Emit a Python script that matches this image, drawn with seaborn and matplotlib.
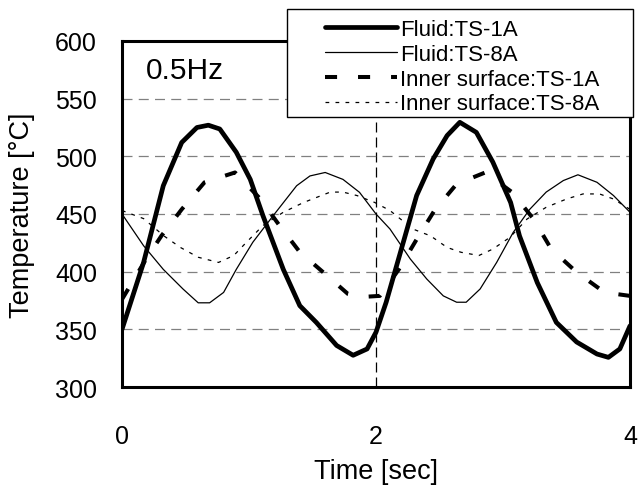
import matplotlib
matplotlib.use("Agg")
import matplotlib.pyplot as plt
import seaborn as sns
import pandas as pd
from matplotlib.patches import Rectangle

# ---- data ----
t_fluid1 = [0.0, 0.17, 0.325, 0.47, 0.59, 0.68, 0.77, 0.90, 1.01, 1.11, 1.27, 1.40, 1.53, 1.69, 1.82, 1.93, 2.0,
            2.08, 2.215, 2.32, 2.45, 2.56, 2.66, 2.79, 2.92, 3.06, 3.13, 3.27, 3.42, 3.58, 3.74, 3.83, 3.92, 4.0]
T_fluid1 = [350, 408, 474.5, 512, 525, 527, 523.7, 503.5, 480, 448.5, 402, 370.5, 356, 336, 327.5, 333, 347.5,
            373.5, 425.5, 466, 497.7, 518, 529.5, 520.8, 495, 460, 431, 390.5, 356, 339, 328.6, 325.7, 333, 353]

t_fluid8 = [0.0, 0.17, 0.325, 0.48, 0.60, 0.69, 0.80, 0.90, 1.03, 1.19, 1.375, 1.48, 1.60, 1.74, 1.87, 2.0, 2.11,
            2.27, 2.40, 2.53, 2.635, 2.71, 2.82, 2.95, 3.08, 3.21, 3.34, 3.475, 3.59, 3.74, 3.87, 4.0]
T_fluid8 = [450, 422.5, 402, 385, 373, 373, 382, 402, 425.5, 448.5, 474.5, 483, 486, 480, 468.8, 450, 437,
            411, 393.6, 379, 373.5, 373.5, 385, 408, 434, 454, 469, 479, 484, 477.5, 466, 451.5]

t_inner1 = [0.0, 0.19, 0.31, 0.47, 0.65, 0.89, 1.09, 1.24, 1.40, 1.60, 1.78, 1.88, 2.03,
            2.18, 2.32, 2.46, 2.635, 2.86, 3.07, 3.24, 3.38, 3.58, 3.80, 4.0]
T_inner1 = [376, 411, 431, 454, 477.5, 486, 463, 440, 417, 398, 380.6, 378, 379,
            402, 428, 453, 476, 486, 469, 445.7, 419.6, 399.5, 382, 379]

t_inner8 = [0.0, 0.17, 0.33, 0.46, 0.60, 0.76, 0.88, 0.98, 1.11, 1.27, 1.43, 1.64, 1.74, 1.85, 1.99, 2.11,
            2.29, 2.43, 2.56, 2.67, 2.81, 2.92, 3.055, 3.19, 3.34, 3.50, 3.63, 3.76, 3.87, 4.0]
T_inner8 = [453, 446, 431, 421, 412.5, 408, 414, 425.5, 440, 451.5, 460, 469, 469, 466, 460, 453,
            437, 431, 421, 416.8, 414, 419.6, 429.8, 445.7, 455.8, 463, 467.4, 467.4, 463, 454]

labels = ["Fluid:TS-1A", "Fluid:TS-8A", "Inner surface:TS-1A", "Inner surface:TS-8A"]
y_ticks = [300, 350, 400, 450, 500, 550, 600]
x_ticks = [0, 2, 4]

# ---- styling ----
sns.set_theme(style="white")
plt.rcParams["font.family"] = ["Liberation Sans", "DejaVu Sans"]

fig = plt.figure(figsize=(6.4, 4.89), dpi=100)
ax = fig.add_axes([122 / 640, 1 - 388 / 489, (630 - 122) / 640, (388 - 42) / 489])

series = [
    (t_fluid1, T_fluid1, dict(lw=3.4, ls="-")),
    (t_fluid8, T_fluid8, dict(lw=0.9, ls="-")),
    (t_inner1, T_inner1, dict(lw=2.9, ls=(0, (3, 5.2)))),
    (t_inner8, T_inner8, dict(lw=0.9, ls=(0, (3, 5)))),
]
for (t, T, st), lab in zip(series, labels):
    df = pd.DataFrame({"t": t, "T": T})
    sns.lineplot(data=df, x="t", y="T", ax=ax, color="black", linewidth=st["lw"],
                 linestyle=st["ls"], label=lab, sort=False, legend=False)

ax.set_xlim(0, 4)
ax.set_ylim(300, 600)
ax.set_xticks(x_ticks)
ax.set_yticks(y_ticks)
ax.set_xticklabels([str(v) for v in x_ticks])
ax.set_yticklabels([str(v) for v in y_ticks])

ax.yaxis.grid(True, color="#808080", linestyle=(0, (8, 5)), linewidth=0.9)
ax.xaxis.grid(True, color="black", linestyle=(0, (8, 4)), linewidth=0.9)
ax.set_axisbelow(True)

for sp in ax.spines.values():
    sp.set_visible(True)
    sp.set_color("black")
    sp.set_linewidth(2.2)

ax.tick_params(axis="both", direction="in", length=7, width=1.5, colors="black",
               labelsize=18, labelcolor="black")
ax.tick_params(axis="x", pad=27)
ax.tick_params(axis="y", pad=18)

ax.set_xlabel("Time [sec]", fontsize=19.5, color="black")
ax.set_ylabel("Temperature [°C]", fontsize=19.5, color="black")
ax.xaxis.label.set_va("center")
ax.yaxis.label.set_va("center")
ax.xaxis.set_label_coords(0.5, -(472 - 388) / 346)
ax.yaxis.set_label_coords(-(122 - 22.5) / 508, 0.5)

ax.text(0.047, 0.916, "0.5Hz", transform=ax.transAxes, fontsize=21.5, color="black",
        ha="left", va="center")

# legend box (drawn above the axes content, below the legend text)
ax.add_patch(Rectangle((287 / 640, 1 - 118 / 489), (633 - 287) / 640, (118 - 10) / 489,
                       transform=fig.transFigure, facecolor="white", edgecolor="black",
                       linewidth=1.0, zorder=20, clip_on=False))

handles, labs = ax.get_legend_handles_labels()
leg = fig.legend(handles, labs, loc="upper left", bbox_to_anchor=(325 / 640, 1 - 20 / 489),
                 frameon=False, fontsize=16, handlelength=3.25, handletextpad=0.12,
                 labelspacing=0.17, borderpad=0.0, borderaxespad=0.0)
for txt in leg.get_texts():
    txt.set_color("black")
leg.set_zorder(30)

fig.savefig("out.png", dpi=100)
